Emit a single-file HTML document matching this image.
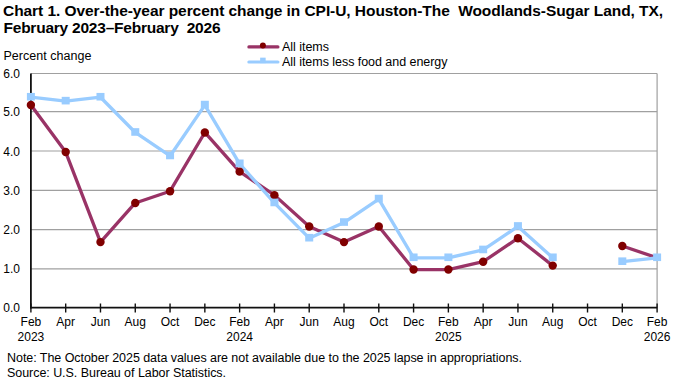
<!DOCTYPE html><html><head><meta charset="utf-8"><style>
html,body{margin:0;padding:0;background:#fff;width:680px;height:381px;overflow:hidden}
svg{display:block}
text{font-family:"Liberation Sans",sans-serif;fill:#000}
.ax{font-size:12px}
</style></head><body><svg width="680" height="381" viewBox="0 0 680 381">
<line x1="30.9" y1="268.9" x2="657.1" y2="268.9" stroke="#a0a0a0" stroke-width="1.2"/>
<line x1="30.9" y1="229.65" x2="657.1" y2="229.65" stroke="#a0a0a0" stroke-width="1.2"/>
<line x1="30.9" y1="190.3" x2="657.1" y2="190.3" stroke="#a0a0a0" stroke-width="1.2"/>
<line x1="30.9" y1="151.0" x2="657.1" y2="151.0" stroke="#a0a0a0" stroke-width="1.2"/>
<line x1="30.9" y1="111.65" x2="657.1" y2="111.65" stroke="#a0a0a0" stroke-width="1.2"/>
<line x1="30.9" y1="73.5" x2="657.1" y2="73.5" stroke="#a0a0a0" stroke-width="1.2"/>
<line x1="657.1" y1="73.5" x2="657.1" y2="307.65" stroke="#a0a0a0" stroke-width="1.2"/>
<text x="20" y="312.15" text-anchor="end" class="ax">0.0</text>
<text x="20" y="273.4" text-anchor="end" class="ax">1.0</text>
<text x="20" y="234.15" text-anchor="end" class="ax">2.0</text>
<text x="20" y="194.8" text-anchor="end" class="ax">3.0</text>
<text x="20" y="155.5" text-anchor="end" class="ax">4.0</text>
<text x="20" y="116.15" text-anchor="end" class="ax">5.0</text>
<text x="20" y="78.0" text-anchor="end" class="ax">6.0</text>
<line x1="30.9" y1="73.5" x2="30.9" y2="308.54999999999995" stroke="#111" stroke-width="1.8"/>
<line x1="30.0" y1="307.65" x2="657.1" y2="307.65" stroke="#111" stroke-width="1.8"/>
<line x1="30.9" y1="303.5" x2="30.9" y2="312.5" stroke="#111" stroke-width="1.4"/>
<text x="30.9" y="326" text-anchor="middle" class="ax">Feb</text>
<line x1="65.6888888888889" y1="303.5" x2="65.6888888888889" y2="312.5" stroke="#111" stroke-width="1.4"/>
<text x="65.6888888888889" y="326" text-anchor="middle" class="ax">Apr</text>
<line x1="100.47777777777779" y1="303.5" x2="100.47777777777779" y2="312.5" stroke="#111" stroke-width="1.4"/>
<text x="100.47777777777779" y="326" text-anchor="middle" class="ax">Jun</text>
<line x1="135.26666666666668" y1="303.5" x2="135.26666666666668" y2="312.5" stroke="#111" stroke-width="1.4"/>
<text x="135.26666666666668" y="326" text-anchor="middle" class="ax">Aug</text>
<line x1="170.05555555555557" y1="303.5" x2="170.05555555555557" y2="312.5" stroke="#111" stroke-width="1.4"/>
<text x="170.05555555555557" y="326" text-anchor="middle" class="ax">Oct</text>
<line x1="204.84444444444446" y1="303.5" x2="204.84444444444446" y2="312.5" stroke="#111" stroke-width="1.4"/>
<text x="204.84444444444446" y="326" text-anchor="middle" class="ax">Dec</text>
<line x1="239.63333333333335" y1="303.5" x2="239.63333333333335" y2="312.5" stroke="#111" stroke-width="1.4"/>
<text x="239.63333333333335" y="326" text-anchor="middle" class="ax">Feb</text>
<line x1="274.4222222222222" y1="303.5" x2="274.4222222222222" y2="312.5" stroke="#111" stroke-width="1.4"/>
<text x="274.4222222222222" y="326" text-anchor="middle" class="ax">Apr</text>
<line x1="309.2111111111111" y1="303.5" x2="309.2111111111111" y2="312.5" stroke="#111" stroke-width="1.4"/>
<text x="309.2111111111111" y="326" text-anchor="middle" class="ax">Jun</text>
<line x1="344.0" y1="303.5" x2="344.0" y2="312.5" stroke="#111" stroke-width="1.4"/>
<text x="344.0" y="326" text-anchor="middle" class="ax">Aug</text>
<line x1="378.7888888888889" y1="303.5" x2="378.7888888888889" y2="312.5" stroke="#111" stroke-width="1.4"/>
<text x="378.7888888888889" y="326" text-anchor="middle" class="ax">Oct</text>
<line x1="413.5777777777778" y1="303.5" x2="413.5777777777778" y2="312.5" stroke="#111" stroke-width="1.4"/>
<text x="413.5777777777778" y="326" text-anchor="middle" class="ax">Dec</text>
<line x1="448.3666666666667" y1="303.5" x2="448.3666666666667" y2="312.5" stroke="#111" stroke-width="1.4"/>
<text x="448.3666666666667" y="326" text-anchor="middle" class="ax">Feb</text>
<line x1="483.15555555555557" y1="303.5" x2="483.15555555555557" y2="312.5" stroke="#111" stroke-width="1.4"/>
<text x="483.15555555555557" y="326" text-anchor="middle" class="ax">Apr</text>
<line x1="517.9444444444445" y1="303.5" x2="517.9444444444445" y2="312.5" stroke="#111" stroke-width="1.4"/>
<text x="517.9444444444445" y="326" text-anchor="middle" class="ax">Jun</text>
<line x1="552.7333333333333" y1="303.5" x2="552.7333333333333" y2="312.5" stroke="#111" stroke-width="1.4"/>
<text x="552.7333333333333" y="326" text-anchor="middle" class="ax">Aug</text>
<line x1="587.5222222222222" y1="303.5" x2="587.5222222222222" y2="312.5" stroke="#111" stroke-width="1.4"/>
<text x="587.5222222222222" y="326" text-anchor="middle" class="ax">Oct</text>
<line x1="622.3111111111111" y1="303.5" x2="622.3111111111111" y2="312.5" stroke="#111" stroke-width="1.4"/>
<text x="622.3111111111111" y="326" text-anchor="middle" class="ax">Dec</text>
<line x1="657.1" y1="303.5" x2="657.1" y2="312.5" stroke="#111" stroke-width="1.4"/>
<text x="657.1" y="326" text-anchor="middle" class="ax">Feb</text>
<text x="30.9" y="341" text-anchor="middle" class="ax">2023</text>
<text x="239.63333333333335" y="341" text-anchor="middle" class="ax">2024</text>
<text x="448.3666666666667" y="341" text-anchor="middle" class="ax">2025</text>
<text x="657.1" y="341" text-anchor="middle" class="ax">2026</text>
<polyline points="30.90,105.06 65.69,152.05 100.48,242.12 135.27,202.96 170.06,191.21 204.84,132.47 239.63,171.63 274.42,195.13 309.21,226.45 344.00,242.12 378.79,226.45 413.58,269.53 448.37,269.53 483.16,261.70 517.94,238.20 552.73,265.61" fill="none" stroke="#993366" stroke-width="3.3" stroke-linejoin="round"/>
<polyline points="622.31,246.03 657.10,257.78" fill="none" stroke="#993366" stroke-width="3.3" stroke-linejoin="round"/>
<polyline points="30.90,97.23 65.69,101.14 100.48,97.23 135.27,132.47 170.06,155.97 204.84,105.06 239.63,163.80 274.42,202.96 309.21,238.20 344.00,222.54 378.79,199.04 413.58,257.78 448.37,257.78 483.16,249.95 517.94,226.45 552.73,257.78" fill="none" stroke="#99ccff" stroke-width="3.3" stroke-linejoin="round"/>
<polyline points="622.31,261.70 657.10,257.78" fill="none" stroke="#99ccff" stroke-width="3.3" stroke-linejoin="round"/>
<circle cx="30.90" cy="105.06" r="4.2" fill="#800000"/>
<circle cx="65.69" cy="152.05" r="4.2" fill="#800000"/>
<circle cx="100.48" cy="242.12" r="4.2" fill="#800000"/>
<circle cx="135.27" cy="202.96" r="4.2" fill="#800000"/>
<circle cx="170.06" cy="191.21" r="4.2" fill="#800000"/>
<circle cx="204.84" cy="132.47" r="4.2" fill="#800000"/>
<circle cx="239.63" cy="171.63" r="4.2" fill="#800000"/>
<circle cx="274.42" cy="195.13" r="4.2" fill="#800000"/>
<circle cx="309.21" cy="226.45" r="4.2" fill="#800000"/>
<circle cx="344.00" cy="242.12" r="4.2" fill="#800000"/>
<circle cx="378.79" cy="226.45" r="4.2" fill="#800000"/>
<circle cx="413.58" cy="269.53" r="4.2" fill="#800000"/>
<circle cx="448.37" cy="269.53" r="4.2" fill="#800000"/>
<circle cx="483.16" cy="261.70" r="4.2" fill="#800000"/>
<circle cx="517.94" cy="238.20" r="4.2" fill="#800000"/>
<circle cx="552.73" cy="265.61" r="4.2" fill="#800000"/>
<circle cx="622.31" cy="246.03" r="4.2" fill="#800000"/>
<rect x="26.90" y="92.93" width="8" height="7.6" fill="#99ccff"/>
<rect x="61.69" y="96.84" width="8" height="7.6" fill="#99ccff"/>
<rect x="96.48" y="92.93" width="8" height="7.6" fill="#99ccff"/>
<rect x="131.27" y="128.17" width="8" height="7.6" fill="#99ccff"/>
<rect x="166.06" y="151.67" width="8" height="7.6" fill="#99ccff"/>
<rect x="200.84" y="100.76" width="8" height="7.6" fill="#99ccff"/>
<rect x="235.63" y="159.50" width="8" height="7.6" fill="#99ccff"/>
<rect x="270.42" y="198.66" width="8" height="7.6" fill="#99ccff"/>
<rect x="305.21" y="233.90" width="8" height="7.6" fill="#99ccff"/>
<rect x="340.00" y="218.24" width="8" height="7.6" fill="#99ccff"/>
<rect x="374.79" y="194.74" width="8" height="7.6" fill="#99ccff"/>
<rect x="409.58" y="253.48" width="8" height="7.6" fill="#99ccff"/>
<rect x="444.37" y="253.48" width="8" height="7.6" fill="#99ccff"/>
<rect x="479.16" y="245.65" width="8" height="7.6" fill="#99ccff"/>
<rect x="513.94" y="222.15" width="8" height="7.6" fill="#99ccff"/>
<rect x="548.73" y="253.48" width="8" height="7.6" fill="#99ccff"/>
<rect x="618.31" y="257.40" width="8" height="7.6" fill="#99ccff"/>
<rect x="653.10" y="253.48" width="8" height="7.6" fill="#99ccff"/>
<line x1="248.9" y1="46.9" x2="277.9" y2="46.9" stroke="#993366" stroke-width="3.2" stroke-linecap="round"/>
<circle cx="262.9" cy="45.5" r="3" fill="#800000"/>
<line x1="248.9" y1="62" x2="277.9" y2="62" stroke="#99ccff" stroke-width="3.2" stroke-linecap="round"/>
<rect x="260.15" y="57.65" width="5.5" height="5.5" fill="#99ccff"/>
<text x="3" y="15.7" style="font-size:15.5px;font-weight:bold" class="tx" textLength="660" lengthAdjust="spacing">Chart 1. Over-the-year percent change in CPI-U, Houston-The&#160; Woodlands-Sugar Land, TX,</text>
<text x="3.5" y="33.2" style="font-size:15.5px;font-weight:bold" class="tx" textLength="217" lengthAdjust="spacing">February 2023–February&#160; 2026</text>
<text x="3.5" y="60" style="font-size:12.5px;font-weight:normal" class="tx" textLength="88" lengthAdjust="spacing">Percent change</text>
<text x="282" y="50.5" style="font-size:12.5px;font-weight:normal" class="tx" textLength="47" lengthAdjust="spacing">All items</text>
<text x="282" y="66" style="font-size:12.5px;font-weight:normal" class="tx" textLength="165.5" lengthAdjust="spacing">All items less food and energy</text>
<text x="7" y="362.4" style="font-size:12.5px;font-weight:normal" class="tx" textLength="515" lengthAdjust="spacing">Note: The October 2025 data values are not available due to the 2025 lapse in appropriations.</text>
<text x="7" y="376.5" style="font-size:12.5px;font-weight:normal" class="tx" textLength="219" lengthAdjust="spacing">Source: U.S. Bureau of Labor Statistics.</text>
</svg></body></html>
